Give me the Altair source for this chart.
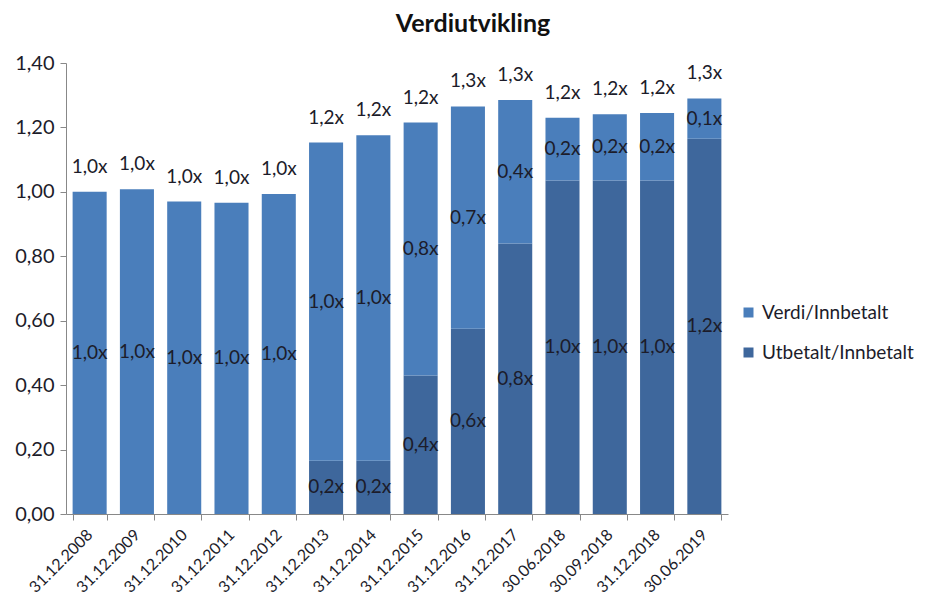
import altair as alt
import pandas as pd

dates = ["31.12.2008", "31.12.2009", "31.12.2010", "31.12.2011", "31.12.2012",
         "31.12.2013", "31.12.2014", "31.12.2015", "31.12.2016", "31.12.2017",
         "30.06.2018", "30.09.2018", "31.12.2018", "30.06.2019"]
utbetalt = [0.0, 0.0, 0.0, 0.0, 0.0, 0.165, 0.165, 0.43, 0.575, 0.84,
            1.035, 1.035, 1.035, 1.165]
verdi = [1.0, 1.008, 0.97, 0.966, 0.993, 0.988, 1.011, 0.785, 0.69, 0.445,
         0.195, 0.206, 0.21, 0.125]

series_names = ["Verdi/Innbetalt", "Utbetalt/Innbetalt"]
colors = ["#4A7EBB", "#3E679C"]

rows = []
for i, d in enumerate(dates):
    rows.append({"date": d, "series": "Utbetalt/Innbetalt", "value": utbetalt[i], "ord": 0})
    rows.append({"date": d, "series": "Verdi/Innbetalt", "value": verdi[i], "ord": 1})
df = pd.DataFrame(rows)

FONT = "Lato"
TXT = "#1c1c2a"

base = alt.Chart(df).transform_stack(
    stack="value", groupby=["date"], as_=["y0", "y1"],
    sort=[alt.SortField("ord", order="ascending")]
)

x_enc = alt.X("date:N", sort=dates, title=None,
              scale=alt.Scale(paddingInner=0.28, paddingOuter=0.14),
              axis=alt.Axis(labelAngle=-45, labelAlign="right", labelBaseline="middle",
                            labelFontSize=16, labelFont=FONT, labelColor=TXT,
                            tickBand="extent", tickSize=6, tickColor="#888",
                            domainColor="#888", labelPadding=12, labelOffset=0))

bars = base.mark_bar().encode(
    x=x_enc,
    y=alt.Y("y0:Q", title=None,
            scale=alt.Scale(domain=[0, 1.4], nice=False),
            axis=alt.Axis(values=[0, 0.2, 0.4, 0.6, 0.8, 1.0, 1.2, 1.4],
                          labelExpr="replace(format(datum.value, '.2f'), '.', ',')",
                          labelFontSize=20, labelFont=FONT, labelColor=TXT,
                          grid=False, tickSize=6, tickColor="#888",
                          domainColor="#888", labelPadding=6)),
    y2="y1:Q",
    color=alt.Color("series:N",
                    scale=alt.Scale(domain=series_names, range=colors),
                    legend=alt.Legend(title=None, orient="none", legendX=673, legendY=240,
                                      symbolType="square", symbolSize=100,
                                      symbolStrokeWidth=0,
                                      labelFontSize=19, labelFont=FONT, labelColor=TXT,
                                      rowPadding=20)),
)

seg_labels = base.transform_filter("datum.value > 0").transform_calculate(
    mid="(datum.y0 + datum.y1) / 2",
    lab="replace(format(datum.value, '.1f'), '.', ',') + 'x'"
).mark_text(fontSize=19, font=FONT, color=TXT, baseline="middle").encode(
    x=alt.X("date:N", sort=dates),
    y=alt.Y("mid:Q"),
    text="lab:N",
)

tot_labels = alt.Chart(df).transform_aggregate(
    total="sum(value)", groupby=["date"]
).transform_calculate(
    lab="replace(format(datum.total, '.1f'), '.', ',') + 'x'"
).mark_text(fontSize=19, font=FONT, color=TXT, baseline="middle", dy=-25).encode(
    x=alt.X("date:N", sort=dates),
    y=alt.Y("total:Q"),
    text="lab:N",
)

chart = alt.layer(bars, seg_labels, tot_labels).properties(
    width=662, height=451,
    autosize=alt.AutoSizeParams(type="none"),
    padding={"left": 58, "top": 55, "right": 195, "bottom": 86},
    title=alt.TitleParams("Verdiutvikling", font=FONT, fontSize=25, fontWeight="bold",
                          color="#111", anchor="middle", dx=76, offset=16),
).configure_view(stroke=None)

chart.save("out.html", embed_options={"renderer": "svg", "actions": False})
